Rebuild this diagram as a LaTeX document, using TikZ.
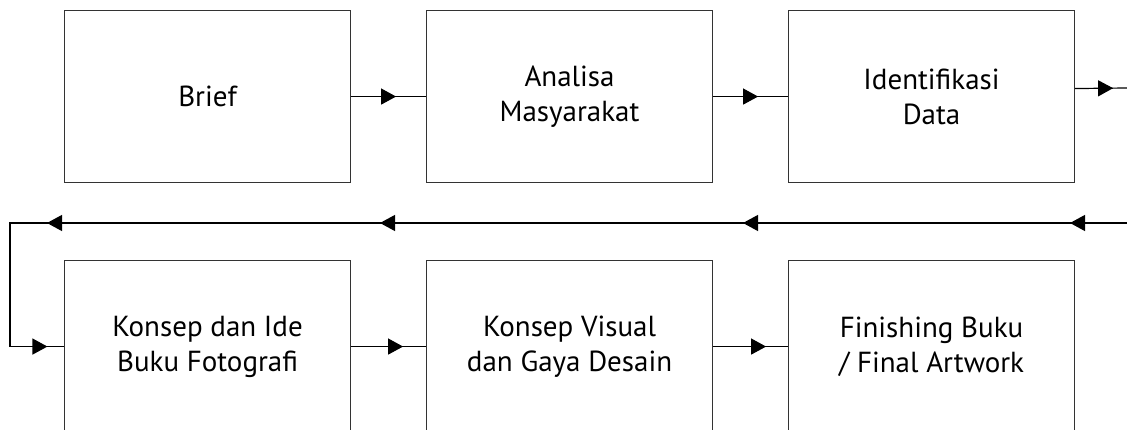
\documentclass[tikz,border=0pt]{standalone}
\usepackage{fontspec}
\setmainfont{PT Sans}
\usetikzlibrary{arrows.meta,decorations.markings}
\tikzset{
  box/.style={draw=black!80, line width=1.1pt, minimum width=286pt, minimum height=172pt, inner sep=0pt, align=center, font=\fontsize{29}{35}\selectfont, anchor=north west},
  conn/.style={draw=black, line width=1.2pt},
  mk/.style={postaction={decorate, decoration={markings, mark=at position #1 with {\arrow{Triangle[length=15pt,width=16pt]}}}}}
}
\begin{document}
\begin{tikzpicture}[x=1pt,y=-1pt]
\useasboundingbox (0,0) rectangle (1127,430);
\clip (0,0) rectangle (1127,430);
\node[box] (b1) at (64,10) {Brief};
\node[box] (b2) at (426,10) {Analisa\\Masyarakat};
\node[box] (b3) at (788,10) {Identifikasi\\Data};
\node[box] (b4) at (64,260) {Konsep dan Ide\\Buku Fotografi};
\node[box] (b5) at (426,260) {Konsep Visual\\dan Gaya Desain};
\node[box] (b6) at (788,260) {Finishing Buku\\/ Final Artwork};
\coordinate (o3) at ([yshift=8pt]b3.east);
\coordinate (out) at (1127,88);
\coordinate (rin) at (1127,223);
\coordinate (rc) at (10,223);
\draw[conn, mk=45pt] (b1.east) -- (b2.west);
\draw[conn, mk=45pt] (b2.east) -- (b3.west);
\draw[conn, mk=38pt] (o3) -- (out);
\draw[conn, mk=52pt] (b4.east) -- (b5.west);
\draw[conn, mk=53pt] (b5.east) -- (b6.west);
\draw[conn, mk=57pt, mk=384pt, mk=747pt, mk=1080pt, mk=1278pt] (rin) -- (rc) |- (b4.west);
\end{tikzpicture}
\end{document}
